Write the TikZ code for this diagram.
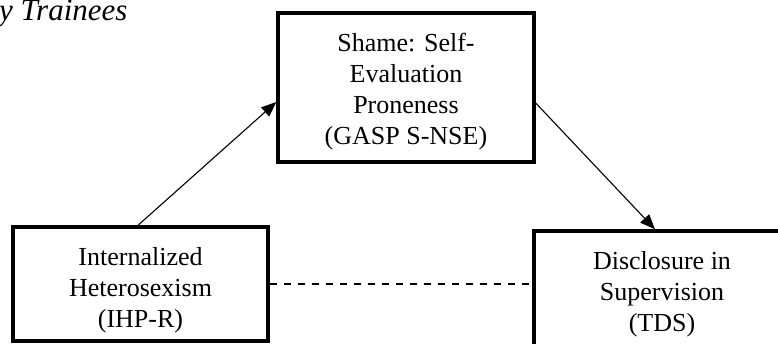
\documentclass[tikz,border=0pt]{standalone}
\usepackage{fontspec}
\setmainfont{Liberation Serif}
\usetikzlibrary{arrows.meta, positioning, calc}
\newcommand{\toppad}[1]{\rule{0pt}{#1}}
\tikzset{
  varbox/.style={
    draw, line width=3.4pt, align=center, fill=white,
    minimum width=256pt, minimum height=114pt, inner sep=0pt,
    font=\fontsize{26}{31}\selectfont
  },
  patharrow/.style={
    -{Triangle[length=15pt, width=12pt]}, line width=1.1pt
  },
  directpath/.style={
    dash pattern=on 7pt off 7pt, line width=1.4pt
  },
  titlelabel/.style={
    font=\fontsize{31}{36}\selectfont\itshape, inner sep=0pt, anchor=base west
  },
}

\begin{document}
\begin{tikzpicture}[x=1pt, y=-1pt]
  \useasboundingbox (0,0) rectangle (778,343);
  \clip (0,0) rectangle (778,343);

  % -- title (cut off) --
  \node[titlelabel] (title) at (-1, 20) {y Trainees};

  % -- mediator --
  \node[varbox, minimum height=149pt] (shame)
    at (406, 87.5) {\toppad{26pt}Shame: Self-\\Evaluation\\Proneness\\(GASP S-NSE)};

  % -- predictor and outcome --
  \node[varbox, minimum width=255pt] (ihs)
    at (140.5, 284) {\toppad{30pt}Internalized\\Heterosexism\\(IHP-R)};
  \node[varbox, minimum height=116pt] (tds)
    at (662, 289) {\toppad{28pt}Disclosure in\\Supervision\\(TDS)};

  % -- paths --
  \draw[patharrow] ([xshift=-2.5pt]ihs.north) -- ([yshift=-14.5pt]shame.west);
  \draw[patharrow] ([yshift=-15.5pt]shame.east) -- ([xshift=-7pt]tds.north);
  \draw[directpath] (ihs.east) -- (ihs.east -| tds.west);
\end{tikzpicture}
\end{document}
